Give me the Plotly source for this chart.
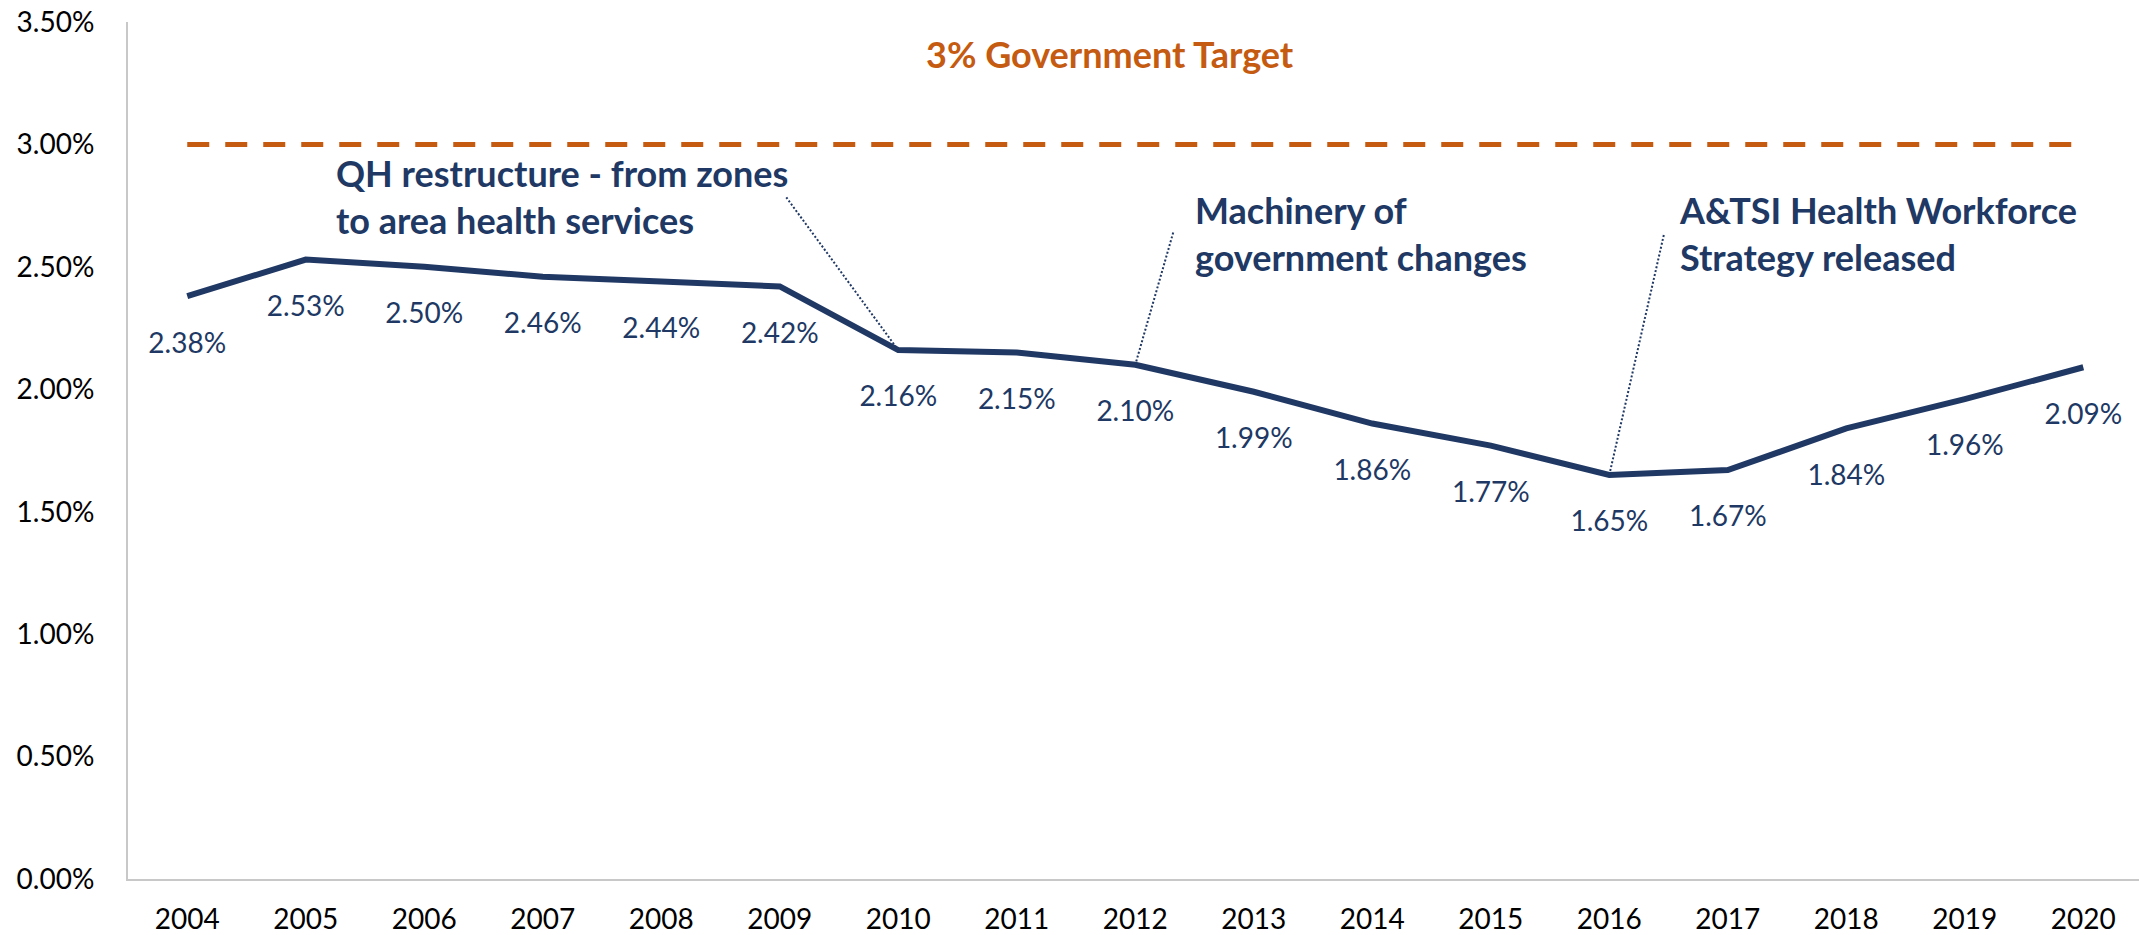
import plotly.graph_objects as go

years = [str(y) for y in range(2004, 2021)]
rates = [2.38, 2.53, 2.50, 2.46, 2.44, 2.42, 2.16, 2.15, 2.10, 1.99, 1.86, 1.77, 1.65, 1.67, 1.84, 1.96, 2.09]
rate_labels = [f"{v:.2f}%" for v in rates]
target_value = 3.0
target_label = "3% Government Target"
y_ticks = [0, 0.5, 1.0, 1.5, 2.0, 2.5, 3.0, 3.5]
y_tick_text = [f"{v:.2f}%" for v in y_ticks]

events = [
    {"year": "2010", "text": "QH restructure - from zones<br>to area health services",
     "tx": 1.24, "ty": 2.98, "lx": 5.055, "ly": 2.784},
    {"year": "2012", "text": "Machinery of<br>government changes",
     "tx": 8.49, "ty": 2.83, "lx": 8.32, "ly": 2.64},
    {"year": "2016", "text": "A&TSI Health Workforce<br>Strategy released",
     "tx": 12.57, "ty": 2.83, "lx": 12.46, "ly": 2.63},
]

NAVY = "#203864"
ORANGE = "#C55A11"
FONT = "Lato"

fig = go.Figure()

fig.add_trace(go.Scatter(
    x=years, y=[target_value] * len(years), mode="lines",
    line=dict(color=ORANGE, width=5, dash="22px,16px"),
    hoverinfo="skip", showlegend=False,
))

fig.add_trace(go.Scatter(
    x=years, y=rates, mode="lines",
    line=dict(color=NAVY, width=6),
    showlegend=False,
))

fig.add_trace(go.Scatter(
    x=years, y=rates, mode="markers+text",
    marker=dict(size=55, color="rgba(0,0,0,0)"),
    text=rate_labels, textposition="bottom center",
    textfont=dict(family=FONT, size=28, color=NAVY),
    hoverinfo="skip", showlegend=False,
))

# leader lines
for ev in events:
    idx = years.index(ev["year"])
    fig.add_shape(
        type="line", xref="x", yref="y",
        x0=ev["lx"], y0=ev["ly"], x1=idx, y1=rates[idx],
        line=dict(color=NAVY, width=2, dash="2px,2px"),
    )
    fig.add_annotation(
        x=ev["tx"], y=ev["ty"], xref="x", yref="y",
        text=ev["text"], showarrow=False, align="left",
        xanchor="left", yanchor="top",
        font=dict(family=FONT, size=36, color=NAVY, weight="bold"),
    )

fig.add_annotation(
    x=7.79, y=3.37, xref="x", yref="y", text=target_label, showarrow=False,
    xanchor="center", yanchor="middle",
    font=dict(family=FONT, size=36, color=ORANGE, weight="bold"),
)

fig.update_layout(
    width=2139, height=935,
    margin=dict(l=128, r=0, t=22, b=56),
    paper_bgcolor="white", plot_bgcolor="white",
    font=dict(family=FONT, color="black"),
)
fig.update_xaxes(
    type="category", range=[-0.5, 16.47],
    showline=True, linecolor="#C8C8C8", linewidth=2,
    showgrid=False, zeroline=False,
    ticks="outside", ticklen=14, tickcolor="rgba(0,0,0,0)",
    tickfont=dict(family=FONT, size=28, color="black"),
)
fig.update_yaxes(
    range=[0, 3.5], tickvals=y_ticks, ticktext=y_tick_text,
    showline=True, linecolor="#C8C8C8", linewidth=2,
    showgrid=False, zeroline=False,
    ticks="outside", ticklen=26, tickcolor="rgba(0,0,0,0)",
    tickfont=dict(family=FONT, size=28, color="black"),
)

fig.write_html("out.html")
